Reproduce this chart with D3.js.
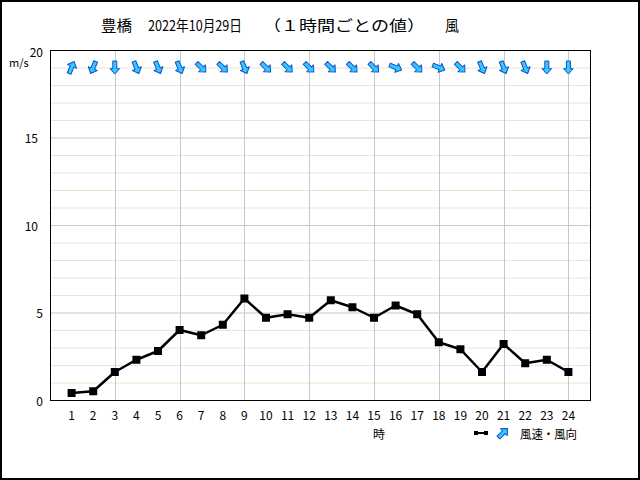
<!DOCTYPE html>
<html><head><meta charset="utf-8">
<script src="https://cdn.jsdelivr.net/npm/d3@7/dist/d3.min.js"></script>
<style>body{margin:0;background:#fff}svg{display:block}text{font-family:"Noto Sans CJK JP","DejaVu Sans",sans-serif}</style>
</head><body><svg id="c" width="640" height="480"></svg>
<script>
const hours = [1,2,3,4,5,6,7,8,9,10,11,12,13,14,15,16,17,18,19,20,21,22,23,24];
const speed = [0.4,0.5,1.6,2.3,2.8,4.0,3.7,4.3,5.8,4.7,4.9,4.7,5.7,5.3,4.7,5.4,4.9,3.3,2.9,1.6,3.2,2.1,2.3,1.6];
const windFrom = ["SSW","NNE","N","NNW","NNW","NNW","NW","NW","NNW","NW","NW","NW","NW","NW","NW","WNW","NW","WNW","NW","NNW","NNW","NNW","N","N"];
const compass = ["N","NNE","NE","ENE","E","ESE","SE","SSE","S","SSW","SW","WSW","W","WNW","NW","NNW"];
const yTicks = [0,5,10,15,20];
const titleParts = ["豊橋","2022年10月29日","（１時間ごとの値）","風"];
const legendLabel = "風速・風向";

const svg = d3.select("#c");
const L=50,R=590,T=50,B=400;
const x = d3.scaleLinear().domain([0,25]).range([L,R]);
const y = d3.scaleLinear().domain([0,20]).range([B,T]);

svg.append("rect").attr("x",1).attr("y",1).attr("width",638).attr("height",478).attr("fill","#fff").attr("stroke","#000").attr("stroke-width",2);

// minor horizontal grid
svg.append("g").selectAll("line").data(d3.range(1,20).filter(v=>v%5!==0)).join("line")
  .attr("x1",L).attr("x2",R).attr("y1",d=>y(d)+0.5).attr("y2",d=>y(d)+0.5)
  .attr("stroke","#ece4cc").attr("stroke-width",1);
// major horizontal grid
svg.append("g").selectAll("line").data([5,10,15]).join("line")
  .attr("x1",L).attr("x2",R).attr("y1",d=>y(d)+0.5).attr("y2",d=>y(d)+0.5)
  .attr("stroke","#c8c8c8").attr("stroke-width",1);
// vertical grid
svg.append("g").selectAll("line").data(hours.filter(h=>h%3===0)).join("line")
  .attr("x1",d=>Math.round(x(d))+0.5).attr("x2",d=>Math.round(x(d))+0.5).attr("y1",T).attr("y2",B)
  .attr("stroke","#c8c8c8").attr("stroke-width",1);

svg.append("rect").attr("x",L+0.5).attr("y",T+0.5).attr("width",R-L).attr("height",B-T).attr("fill","none").attr("stroke","#000").attr("stroke-width",1);

// y axis labels
const ydx = {0:43,5:43,10:38,15:38,20:43};
svg.append("g").selectAll("text").data(yTicks).join("text")
  .attr("x",d=>ydx[d]).attr("y",d=>y(d)+(d===20?1:0)).attr("text-anchor","end").attr("dominant-baseline","central")
  .attr("font-size",12).attr("fill","#000").text(d=>d);
svg.append("text").attr("x",9).attr("y",62).attr("dominant-baseline","central").attr("font-size",11).text("m/s");

// x axis labels
svg.append("g").selectAll("text").data(hours).join("text")
  .attr("x",d=>x(d)).attr("y",414).attr("text-anchor","middle").attr("dominant-baseline","central")
  .attr("font-size",12).text(d=>d);
svg.append("text").attr("x",379).attr("y",433).attr("text-anchor","middle").attr("dominant-baseline","central").attr("font-size",12).text("時");

// title
const tx=[101,148,263,445], tl=[31,94,162,14];
svg.append("g").selectAll("text").data(titleParts).join("text")
  .attr("x",(d,i)=>tx[i]).attr("y",24).attr("dominant-baseline","central").attr("font-size",15)
  .attr("textLength",(d,i)=>tl[i]).attr("lengthAdjust","spacingAndGlyphs").text(d=>d);

// line
const line = d3.line().x((d,i)=>x(hours[i])).y(d=>y(d));
svg.append("path").datum(speed).attr("d",line).attr("fill","none").attr("stroke","#000").attr("stroke-width",2.5).attr("stroke-linejoin","round");
svg.append("g").selectAll("rect").data(speed).join("rect")
  .attr("x",(d,i)=>x(hours[i])-4).attr("y",d=>y(d)-4).attr("width",8).attr("height",8).attr("fill","#000");

// arrows
const arrowPath = "M0,-6.5 L4.8,-1.2 L2,-1.2 L2,6.5 L-2,6.5 L-2,-1.2 L-4.8,-1.2 Z";
svg.append("g").selectAll("path").data(windFrom).join("path")
  .attr("d",arrowPath)
  .attr("transform",(d,i)=>`translate(${x(hours[i])},${y(19)}) rotate(${(compass.indexOf(d)*22.5+180)%360})`)
  .attr("fill","#33c8ff").attr("stroke","#1050c8").attr("stroke-width",1).attr("stroke-linejoin","round");

// legend
svg.append("line").attr("x1",475).attr("x2",487).attr("y1",433).attr("y2",433).attr("stroke","#000").attr("stroke-width",2);
svg.append("rect").attr("x",474).attr("y",431).attr("width",4).attr("height",4).attr("fill","#000");
svg.append("rect").attr("x",484).attr("y",431).attr("width",4).attr("height",4).attr("fill","#000");
svg.append("path").attr("d",arrowPath).attr("transform","translate(503,433) rotate(45)")
  .attr("fill","#33c8ff").attr("stroke","#1050c8").attr("stroke-width",1).attr("stroke-linejoin","round");
svg.append("text").attr("x",520).attr("y",433).attr("dominant-baseline","central").attr("font-size",12)
  .attr("textLength",57).attr("lengthAdjust","spacingAndGlyphs").text(legendLabel);
</script></body></html>
